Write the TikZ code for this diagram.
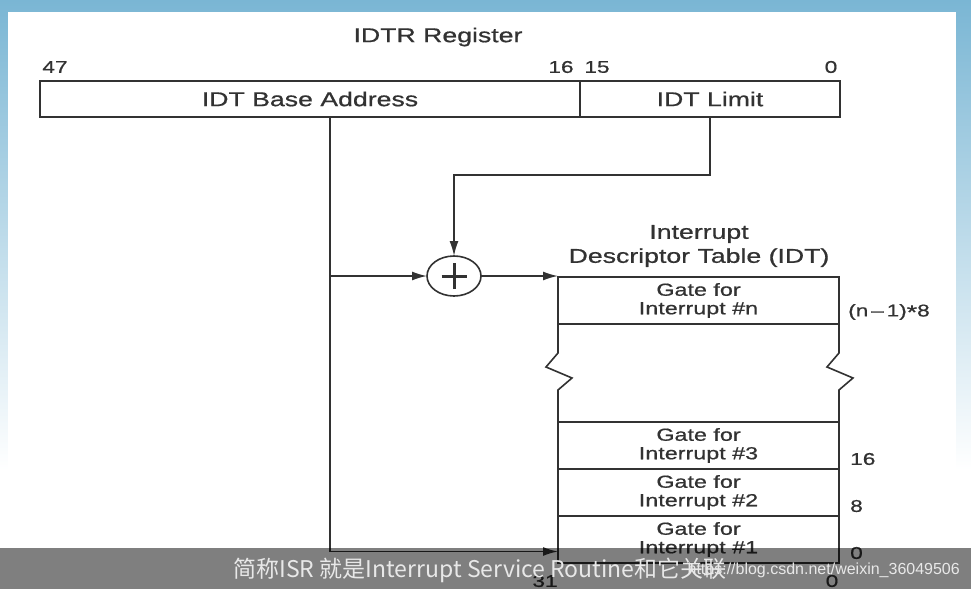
\documentclass[tikz,border=0pt]{standalone}
\usepackage{fontspec}
\setmainfont{Liberation Sans}
\newfontfamily\wide[FakeStretch=1.333,FakeBold=0.7]{Liberation Sans}
\newfontfamily\cjk{Noto Sans CJK SC}
\usetikzlibrary{arrows.meta,shapes.geometric,positioning}
\definecolor{ink}{RGB}{50,50,50}
\definecolor{frametop}{RGB}{122,182,212}
\definecolor{subtxt}{RGB}{232,232,232}
\tikzset{
  field/.style={draw=ink,line width=1.6pt,minimum height=36pt,inner sep=0pt,outer sep=0pt,text=ink,font=\wide\fontsize{20}{22}\selectfont},
  gate/.style={draw=ink,line width=1.6pt,minimum width=281pt,minimum height=47pt,inner sep=0pt,outer sep=0pt,text=ink,align=center,font=\wide\fontsize{17.5}{18.5}\selectfont},
  lbl/.style={text=ink,inner sep=0pt,font=\wide\fontsize{20}{24}\selectfont},
  num/.style={text=ink,inner sep=0pt,font=\wide\fontsize{17}{20}\selectfont},
  link/.style={draw=ink,line width=1.6pt},
  feed/.style={link,-{Latex[length=15pt,width=9pt]}},
  adder/.style={ellipse,draw=ink,line width=1.6pt,minimum width=54pt,minimum height=40pt,inner sep=0pt,outer sep=0pt}
}

\begin{document}
\begin{tikzpicture}[x=1pt,y=-1pt]

    % -- Frame of the slide --
    \useasboundingbox (0,0) rectangle (971,589);
    \shade[top color=frametop, bottom color=white] (0,0) rectangle (971,470);
    \fill[white] (8,12) rectangle (956,589);

    % -- IDTR register --
    \node[lbl] (title) at (438,37) {IDTR Register};
    \node[field,minimum width=540pt] (base) at (310,99) {IDT Base Address};
    \node[field,minimum width=260pt] (limit) at (710,99) {IDT Limit};

    % -- Bit positions above the register --
    \node[num] (b47) at (55,67) {47};
    \node[num] (b16) at (561,67) {16};
    \node[num] (b15) at (597,67) {15};
    \node[num] (b0) at (831,67) {0};

    % -- Adder --
    \node[adder] (sum) at (454,276) {};
    \draw[ink,line width=3pt] ([xshift=-12.5pt]sum.center) -- ([xshift=12.5pt]sum.center);
    \draw[ink,line width=3pt] ([yshift=-13pt]sum.center) -- ([yshift=13pt]sum.center);

    % -- Interrupt descriptor table --
    \node[lbl,align=center] (idt) at (699,246) {Interrupt\\Descriptor Table (IDT)};
    \node[gate] (gaten) at (698.5,300.5) {Gate for\\Interrupt \#n};
    \node[gate] (gate3) at (698.5,445.5) {Gate for\\Interrupt \#3};
    \node[gate,below=0pt of gate3] (gate2) {Gate for\\Interrupt \#2};
    \node[gate,below=0pt of gate2] (gate1) {Gate for\\Interrupt \#1};

    % -- Broken sides between #n and #3 --
    \draw[link] (gaten.south west) -- ++(0,29) -- ++(-12,14) -- ++(26,11) -- ++(-14,12) -- (gate3.north west);
    \draw[link] (gaten.south east) -- ++(0,29) -- ++(-12,14) -- ++(26,11) -- ++(-14,12) -- (gate3.north east);

    % -- Byte offsets --
    \node[num,anchor=west] (offn) at ([xshift=9pt,yshift=12pt]gaten.south east) {(n\,–\,1)\raisebox{-0.3ex}{\fontsize{20}{20}\selectfont *}8};
    \node[num,anchor=west] (off3) at ([xshift=11pt,yshift=10pt]gate3.south east) {16};
    \node[num,anchor=west] (off2) at ([xshift=11pt,yshift=10pt]gate2.south east) {8};
    \node[num,anchor=west] (off1) at ([xshift=11pt,yshift=10pt]gate1.south east) {0};
    \node[num] (t31) at (545,581) {31};
    \node[num] (t0) at (832,581) {0};

    % -- Connectors --
    \coordinate (tap) at ([xshift=20pt]base.south);
    \coordinate (turn) at (454,175);
    \draw[feed] (limit.south) |- (turn) -- (sum.north);
    \draw[feed] (tap) |- ([yshift=-12pt]gate1.west);
    \draw[feed] (tap |- sum.west) -- (sum.west);
    \draw[feed] (sum.east) -- (sum.east -| gaten.west);

    % -- Subtitle bar of the video --
    \fill[black,opacity=0.5] (0,548) rectangle (971,589);
    \node[text=subtxt,inner sep=0pt,font=\fontsize{16}{16}\selectfont,anchor=east] (mark) at (960,570) {https://blog.csdn.net/weixin\_36049506};
    \node[text=subtxt,inner sep=0pt,font=\cjk\fontsize{23}{23}\selectfont] (sub) at (480,570) {简称ISR 就是Interrupt Service Routine和它关联};

\end{tikzpicture}
\end{document}
